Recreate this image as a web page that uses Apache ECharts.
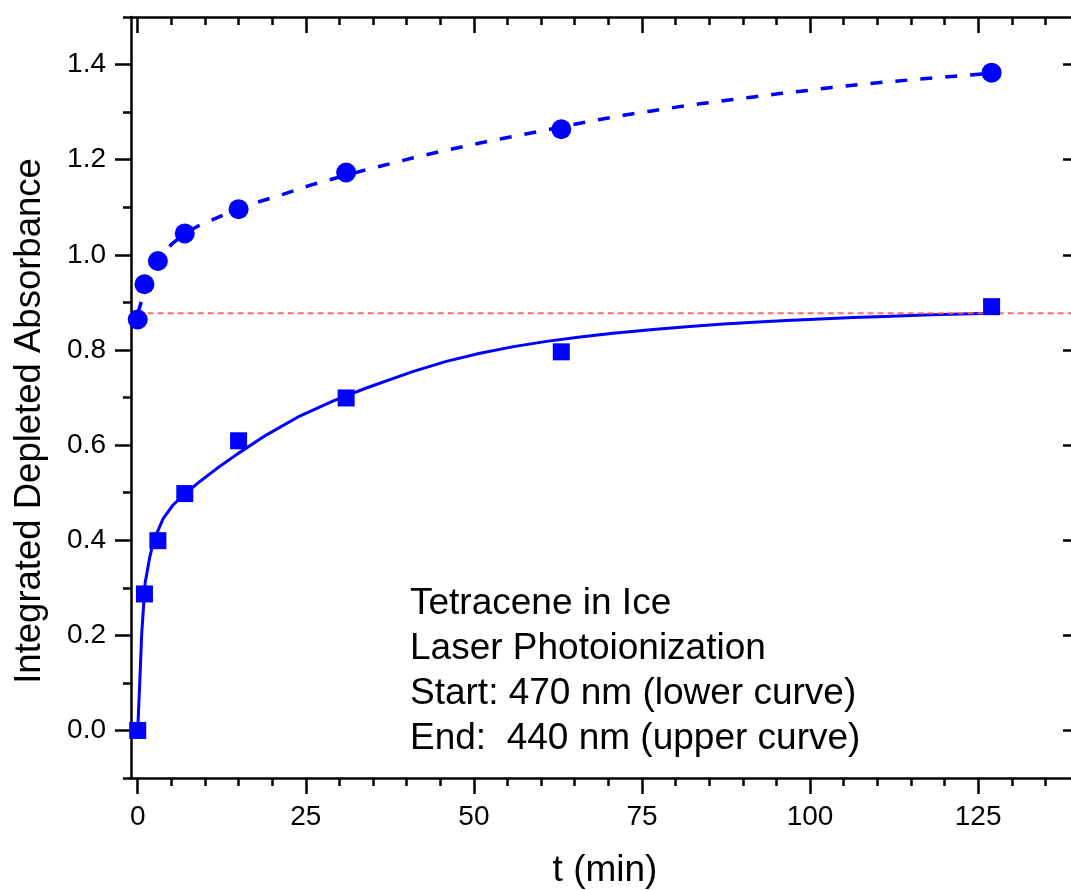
<!DOCTYPE html>
<html>
<head>
<meta charset="utf-8">
<script src="https://cdn.jsdelivr.net/npm/echarts@6/dist/echarts.min.js"></script>
<style>
  html, body { margin: 0; padding: 0; background: #fff; }
  #chart { width: 1071px; height: 890px; }
</style>
</head>
<body>
<div id="chart"></div>
<script>
// Sampling times (min)
const times = [0, 1, 3, 7, 15, 31, 63, 127];
// 440 nm band (circles, upper curve)
const endAbsorbance = [0.864, 0.938, 0.987, 1.045, 1.096, 1.173, 1.264, 1.383];
// 470 nm band (squares, lower curve)
const startAbsorbance = [0.0, 0.287, 0.399, 0.498, 0.609, 0.699, 0.796, 0.891];

// Fitted curves as [t, absorbance]
const endFit = [
  [0, 0.877], [0.4, 0.895], [1, 0.932], [2, 0.962], [3, 0.985], [5, 1.022],
  [7, 1.045], [9.2, 1.062], [13, 1.085], [15, 1.095], [17.2, 1.108], [21.6, 1.127],
  [25.6, 1.146], [29.1, 1.160], [34, 1.179], [38, 1.193], [41, 1.204], [44.9, 1.217],
  [48.9, 1.229], [52.9, 1.241], [56.6, 1.251], [60.3, 1.261], [64.5, 1.273],
  [68.5, 1.284], [72.5, 1.294], [76.2, 1.302], [79.9, 1.310], [83.9, 1.318],
  [87.6, 1.325], [91.6, 1.332], [95.5, 1.339], [99.3, 1.345], [103.2, 1.352],
  [107.2, 1.358], [110.9, 1.363], [115.9, 1.369], [119.3, 1.373], [122.8, 1.377],
  [127, 1.382]
];
const startFit = [
  [0, 0.0], [0.3, 0.10], [0.6, 0.205], [1.1, 0.31], [1.8, 0.365], [2.4, 0.40],
  [3.8, 0.446], [5.25, 0.474], [7, 0.497], [9.2, 0.523], [11.7, 0.550], [14.9, 0.582],
  [19.1, 0.621], [24.1, 0.661], [29.1, 0.693], [34, 0.720], [39, 0.745], [41, 0.755],
  [45.9, 0.776], [50.9, 0.793], [55.9, 0.807], [60.8, 0.818], [65.8, 0.827],
  [70.7, 0.835], [76.7, 0.843], [81.6, 0.849], [86.6, 0.854], [91.6, 0.858],
  [96.5, 0.862], [101.5, 0.865], [106.4, 0.868], [110, 0.870], [118, 0.874], [127, 0.877]
];
// Common level: start value of the upper fit / plateau of the lower fit
const plateau = 0.877;
const plateauSpan = [-1.5, 141];

// Axis ranges and tick positions
const xRange = [-1, 140];
const yRange = [-0.1, 1.5];
const xMajorTicks = [0, 25, 50, 75, 100, 125];
const xMinorTicks = [5, 10, 15, 20, 30, 35, 40, 45, 55, 60, 65, 70, 80, 85, 90, 95, 105, 110, 115, 120, 130, 135, 140];
const yMajorTicks = [0, 0.2, 0.4, 0.6, 0.8, 1.0, 1.2, 1.4];
const yMinorTicks = [-0.1, 0.1, 0.3, 0.5, 0.7, 0.9, 1.1, 1.3, 1.5];

const xTitle = 't (min)';
const yTitle = 'Integrated Depleted Absorbance';
const noteLines = [
  'Tetracene in Ice',
  'Laser Photoionization',
  'Start: 470 nm (lower curve)',
  'End:  440 nm (upper curve)'
];

const FONT = '"Liberation Sans", Arial, Helvetica, sans-serif';
const BLUE = '#0000ff';
const AXIS_W = 2.5;
const plotRect = { left: 131, right: -8, top: 17, bottom: 112, outerBoundsMode: 'none', containLabel: false };

function valueAxis(opts) {
  return Object.assign({
    type: 'value',
    splitLine: { show: false },
    axisLine: { show: false, onZero: false, lineStyle: { color: '#000', width: AXIS_W } },
    axisTick: { show: true, lineStyle: { color: '#000', width: AXIS_W } },
    axisLabel: { show: false },
    animation: false
  }, opts);
}

function xAxisPair(gridIndex, ticks, len, withLine, withLabels) {
  const line = { show: withLine, onZero: false, lineStyle: { color: '#000', width: AXIS_W } };
  return [
    valueAxis({
      gridIndex, position: 'bottom', min: xRange[0], max: xRange[1],
      axisLine: line,
      axisTick: { show: true, inside: false, length: len, customValues: ticks, lineStyle: { color: '#000', width: AXIS_W } },
      axisLabel: withLabels ? {
        show: true, customValues: xMajorTicks, margin: 25,
        fontSize: 28, fontFamily: FONT, color: '#000',
        formatter: v => String(v)
      } : { show: false },
      name: withLabels ? xTitle : '',
      nameLocation: 'middle', nameGap: 74,
      nameTextStyle: { fontSize: 37, fontFamily: FONT, color: '#000' }
    }),
    valueAxis({
      gridIndex, position: 'top', min: xRange[0], max: xRange[1],
      axisLine: line,
      axisTick: { show: true, inside: true, length: len, customValues: ticks, lineStyle: { color: '#000', width: AXIS_W } }
    })
  ];
}

function yAxisPair(gridIndex, ticks, len, withLine, withLabels) {
  const line = { show: withLine, onZero: false, lineStyle: { color: '#000', width: AXIS_W } };
  return [
    valueAxis({
      gridIndex, position: 'left', min: yRange[0], max: yRange[1],
      axisLine: line,
      axisTick: { show: true, inside: false, length: len, customValues: ticks, lineStyle: { color: '#000', width: AXIS_W } },
      axisLabel: withLabels ? {
        show: true, customValues: yMajorTicks, margin: 25,
        fontSize: 28, fontFamily: FONT, color: '#000',
        formatter: v => v.toFixed(1)
      } : { show: false }
    }),
    valueAxis({
      gridIndex, position: 'right', min: yRange[0], max: yRange[1],
      axisLine: line,
      axisTick: { show: true, inside: true, length: len, customValues: ticks, lineStyle: { color: '#000', width: AXIS_W } }
    })
  ];
}

const chart = echarts.init(document.getElementById('chart'), null, { renderer: 'canvas' });

chart.setOption({
  animation: false,
  backgroundColor: '#fff',
  // grid 0 carries the data, the frame and major ticks; grid 1 overlays the minor ticks
  grid: [Object.assign({}, plotRect), Object.assign({}, plotRect)],
  xAxis: [
    ...xAxisPair(0, xMajorTicks, 16, true, true),
    ...xAxisPair(1, xMinorTicks, 8, false, false)
  ],
  yAxis: [
    ...yAxisPair(0, yMajorTicks, 16, true, true),
    ...yAxisPair(1, yMinorTicks, 8, false, false)
  ],
  series: [
    {
      name: 'lower fit', type: 'line', xAxisIndex: 0, yAxisIndex: 0,
      data: startFit, symbol: 'none', smooth: false, z: 2,
      lineStyle: { color: BLUE, width: 3, join: 'round' }
    },
    {
      name: 'upper fit', type: 'line', xAxisIndex: 0, yAxisIndex: 0,
      data: endFit, symbol: 'none', smooth: false, z: 2,
      lineStyle: { color: BLUE, width: 3.5, type: [12, 13], join: 'round' }
    },
    {
      name: 'plateau', type: 'line', xAxisIndex: 0, yAxisIndex: 0,
      data: plateauSpan.map(t => [t, plateau]), symbol: 'none', clip: false, z: 3,
      lineStyle: { color: '#ff5c5c', width: 2, type: [6, 4], opacity: 0.9 }
    },
    {
      name: '470 nm', type: 'scatter', xAxisIndex: 0, yAxisIndex: 0,
      data: times.map((t, i) => [t, startAbsorbance[i]]),
      symbol: 'rect', symbolSize: 17, z: 4,
      itemStyle: { color: BLUE, opacity: 1 }
    },
    {
      name: '440 nm', type: 'scatter', xAxisIndex: 0, yAxisIndex: 0,
      data: times.map((t, i) => [t, endAbsorbance[i]]),
      symbol: 'circle', symbolSize: 20, z: 4,
      itemStyle: { color: BLUE, opacity: 1 }
    }
  ],
  graphic: [
    {
      type: 'text', x: 30, y: 421, rotation: Math.PI / 2,
      style: {
        text: yTitle, fontSize: 36.5, fontFamily: FONT, fill: '#000',
        align: 'center', verticalAlign: 'middle'
      }
    },
    {
      type: 'text', x: 410, y: 581,
      style: {
        text: noteLines.join('\n'), fontSize: 37, fontFamily: FONT, fill: '#000',
        lineHeight: 45, align: 'left', verticalAlign: 'top'
      }
    }
  ]
});
</script>
</body>
</html>
